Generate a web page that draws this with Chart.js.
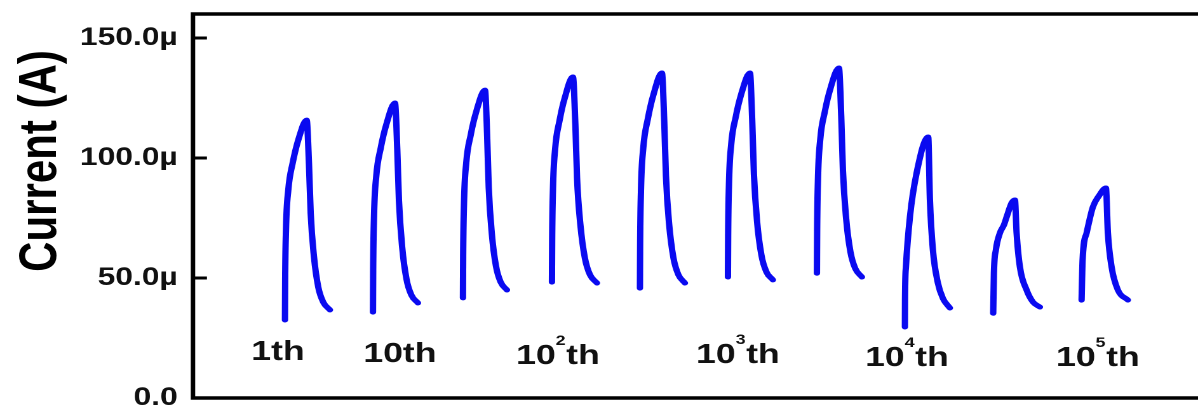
<!DOCTYPE html>
<html><head><meta charset="utf-8">
<script src="https://cdn.jsdelivr.net/npm/chart.js@4/dist/chart.umd.min.js"></script>
<style>
html,body{margin:0;padding:0;background:#fff;overflow:hidden;width:1198px;height:410px;}
#wrap{position:absolute;left:0;top:0;width:950px;height:410px;transform:scaleX(1.2704);transform-origin:0 0;}
</style></head><body>
<div id="wrap"><canvas id="c" width="950" height="410"></canvas></div>
<script>
// y axis
const yTickValues = [0, 50, 100, 150];
const yTickLabels = ['0.0', '50.0\u00b5', '100.0\u00b5', '150.0\u00b5'];
const yTitle = 'Current (A)';

// pulses: [time (a.u.), current (µA)]
const pulse1 = [[92,32.5],[92.2,49.2],[93,70.0],[95.3,86.6],[99.7,97.9],[105.3,107.5],[113.7,115.8],[116,97.6],[117.7,77.0],[121,58.9],[125.3,46.2],[130.3,39.9],[137,36.7]];
const pulse2 = [[180,35.8],[180.2,53.2],[181,75.0],[183.3,92.4],[187.8,104.2],[193.5,114.2],[202,122.9],[204.3,103.7],[206,82.1],[209.2,62.9],[213.5,49.6],[218.4,42.9],[225,39.6]];
const pulse3 = [[270,41.7],[270.2,59.0],[271,80.7],[273.3,98.0],[277.8,109.7],[283.5,119.6],[292,128.3],[294.2,109.1],[295.8,87.5],[298.9,68.3],[303,55.0],[307.7,48.3],[314,45]];
const pulse4 = [[359,48.3],[359.2,65.4],[360,86.8],[362.2,103.8],[366.5,115.4],[371.9,125.2],[380,133.75],[382.4,114.0],[384.1,91.7],[387.5,71.9],[392,58.2],[397.1,51.3],[404,47.9]];
const pulse5 = [[447,45.8],[447.2,63.7],[448,86.1],[450.3,104.0],[454.8,116.1],[460.5,126.4],[469,135.4],[471.3,115.3],[473,92.5],[476.2,72.4],[480.5,58.4],[485.4,51.4],[492,47.9]];
const pulse6 = [[535,50.4],[535.2,67.4],[536,88.7],[538.3,105.7],[542.8,117.1],[548.5,126.9],[557,135.4],[559.3,115.6],[561,93.2],[564.2,73.3],[568.5,59.5],[573.4,52.6],[580,49.2]];
const pulse7 = [[624,52],[624.2,69.1],[625,90.5],[627.3,107.6],[631.8,119.1],[637.5,129.0],[646,137.5],[648.3,117.5],[650,94.8],[653.2,74.8],[657.5,60.9],[662.4,53.9],[669,50.4]];
const pulse8 = [[712,29.6],[712.1,40.8],[713,54.6],[717,75.4],[723.7,93.75],[735.3,108.75],[737,82.5],[740,61.7],[745,47.9],[750,41.5],[757,37.5]];
const pulse9 = [[800.3,35.3],[801,52.1],[803,61.7],[807,68.75],[811,72.1],[813.7,75.4],[818.7,81.25],[822,82.5],[823.7,68.75],[827,54.6],[833.7,45],[840,40],[847,37.9]];
const pulse10 = [[888.7,40.8],[889.7,57.5],[893.7,68.75],[900,79.6],[906,84.2],[913,87.5],[915,68.75],[918.7,54.6],[925,45],[935,40.8]];
const pulses = [pulse1,pulse2,pulse3,pulse4,pulse5,pulse6,pulse7,pulse8,pulse9,pulse10];

// cycle annotations
const cycleBases = ['1','10','10','10','10','10'];
const cycleExponents = ['','','2','3','4','5'];
const cycleLabelTimes = [85,207,365,545,714,905];
const cycleLabelCurrents = [15.8,15,14.2,14.6,13.3,13.3];

const FONT = '"Liberation Sans", Arial, sans-serif';
const LINE_BLUE = '#0a0af0';

const framePlugin = {
  id: 'frame',
  afterDraw(chart) {
    const {ctx, chartArea: {left, top, right, bottom}, scales: {x, y}} = chart;
    ctx.save();
    ctx.strokeStyle = '#000';
    ctx.lineWidth = 3.5;
    ctx.lineCap = 'square';
    ctx.beginPath();
    ctx.moveTo(right + 10, top); ctx.lineTo(left, top); ctx.lineTo(left, bottom); ctx.lineTo(right + 10, bottom);
    ctx.stroke();
    ctx.lineWidth = 3;
    ctx.lineCap = 'butt';
    yTickValues.forEach(v => {
      if (v === 0) return;
      const py = y.getPixelForValue(v);
      ctx.beginPath(); ctx.moveTo(left, py); ctx.lineTo(left + 11, py); ctx.stroke();
    });
    // axis title
    ctx.fillStyle = '#000';
    ctx.font = 'bold 42px ' + FONT;
    ctx.textAlign = 'center';
    ctx.textBaseline = 'alphabetic';
    ctx.translate(44, 161);
    ctx.rotate(-Math.PI / 2);
    ctx.fillText(yTitle, 0, 0);
    ctx.restore();
    // cycle labels
    ctx.save();
    ctx.fillStyle = '#111';
    ctx.textAlign = 'left';
    ctx.textBaseline = 'alphabetic';
    cycleBases.forEach((b, i) => {
      const cx = x.getPixelForValue(cycleLabelTimes[i]);
      const py = y.getPixelForValue(cycleLabelCurrents[i]);
      ctx.font = 'bold 28px ' + FONT;
      const w1 = ctx.measureText(b).width;
      const w3 = ctx.measureText('th').width;
      ctx.font = 'bold 14px ' + FONT;
      const sup = cycleExponents[i];
      const w2 = sup ? ctx.measureText(sup).width + 0.5 : 0;
      let sx = cx - (w1 + w2 + w3) / 2;
      ctx.font = 'bold 28px ' + FONT;
      ctx.fillText(b, sx, py);
      if (sup) { ctx.font = 'bold 14px ' + FONT; ctx.fillText(sup, sx + w1, py - 19); }
      ctx.font = 'bold 28px ' + FONT;
      ctx.fillText('th', sx + w1 + w2, py);
    });
    ctx.restore();
  }
};

new Chart(document.getElementById('c'), {
  type: 'line',
  data: {
    datasets: pulses.map(p => ({
      data: p.map(([t, i]) => ({x: t, y: i})),
      borderColor: LINE_BLUE,
      borderWidth: 5,
      pointRadius: 0,
      fill: false,
      cubicInterpolationMode: 'monotone',
      borderCapStyle: 'round',
      borderJoinStyle: 'round'
    }))
  },
  options: {
    responsive: false,
    animation: false,
    devicePixelRatio: 2,
    layout: {padding: {left: 0, right: 0, top: 14, bottom: 12}},
    plugins: {legend: {display: false}, tooltip: {enabled: false}},
    scales: {
      x: {type: 'linear', min: 0, max: 1014, display: false},
      y: {
        min: 0, max: 160,
        afterBuildTicks: s => { s.ticks = yTickValues.map(v => ({value: v})); },
        afterFit: s => { s.width = 151.9; s.paddingTop = 0; s.paddingBottom = 0; },
        grid: {display: false, drawTicks: false, tickLength: 0},
        border: {display: false},
        ticks: {
          padding: 12, color: '#111',
          font: {family: FONT, size: 25, weight: 'bold', lineHeight: 1},
          callback: v => yTickLabels[yTickValues.indexOf(v)]
        }
      }
    }
  },
  plugins: [framePlugin]
});
</script>
</body></html>
